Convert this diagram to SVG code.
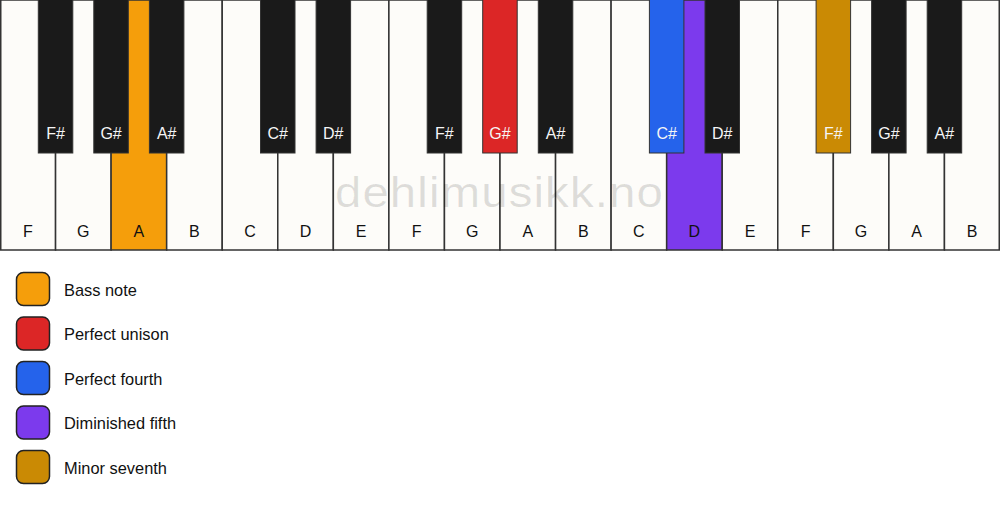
<svg xmlns="http://www.w3.org/2000/svg" width="1000" height="506" viewBox="0 0 1000 506">
<style>
.w{fill:#fdfcf9;stroke:#333;stroke-width:1.5}
.b{fill:#1a1a1a;stroke:#333;stroke-width:1}
.lw{font-family:"Liberation Sans",Arial,sans-serif;font-size:16px;fill:#111;text-anchor:middle}
.lb{font-family:"Liberation Sans",Arial,sans-serif;font-size:16px;fill:#f5f5f5;text-anchor:middle}
.sw{stroke:#222;stroke-width:1.5}
.lt{font-family:"Liberation Sans",Arial,sans-serif;font-size:16.4px;fill:#111}
</style>
<rect width="1000" height="506" fill="#ffffff"/>
<g id="white-keys">
<g id="w0"><rect class="w" x="0.75" y="0" width="54.81" height="250"/><text class="lw" x="27.8" y="237">F</text></g>
<g id="w1"><rect class="w" x="55.56" y="0" width="55.56" height="250"/><text class="lw" x="83.3" y="237">G</text></g>
<g id="w2"><rect class="w" x="111.11" y="0" width="55.56" height="250" style="fill:#f59e0b"/><text class="lw" x="138.9" y="237">A</text></g>
<g id="w3"><rect class="w" x="166.67" y="0" width="55.56" height="250"/><text class="lw" x="194.4" y="237">B</text></g>
<g id="w4"><rect class="w" x="222.22" y="0" width="55.56" height="250"/><text class="lw" x="250" y="237">C</text></g>
<g id="w5"><rect class="w" x="277.78" y="0" width="55.56" height="250"/><text class="lw" x="305.6" y="237">D</text></g>
<g id="w6"><rect class="w" x="333.33" y="0" width="55.56" height="250"/><text class="lw" x="361.1" y="237">E</text></g>
<g id="w7"><rect class="w" x="388.89" y="0" width="55.56" height="250"/><text class="lw" x="416.7" y="237">F</text></g>
<g id="w8"><rect class="w" x="444.44" y="0" width="55.56" height="250"/><text class="lw" x="472.2" y="237">G</text></g>
<g id="w9"><rect class="w" x="500" y="0" width="55.56" height="250"/><text class="lw" x="527.8" y="237">A</text></g>
<g id="w10"><rect class="w" x="555.56" y="0" width="55.56" height="250"/><text class="lw" x="583.3" y="237">B</text></g>
<g id="w11"><rect class="w" x="611.11" y="0" width="55.56" height="250"/><text class="lw" x="638.9" y="237">C</text></g>
<g id="w12"><rect class="w" x="666.67" y="0" width="55.56" height="250" style="fill:#7c3aed"/><text class="lw" x="694.4" y="237">D</text></g>
<g id="w13"><rect class="w" x="722.22" y="0" width="55.56" height="250"/><text class="lw" x="750" y="237">E</text></g>
<g id="w14"><rect class="w" x="777.78" y="0" width="55.56" height="250"/><text class="lw" x="805.6" y="237">F</text></g>
<g id="w15"><rect class="w" x="833.33" y="0" width="55.56" height="250"/><text class="lw" x="861.1" y="237">G</text></g>
<g id="w16"><rect class="w" x="888.89" y="0" width="55.56" height="250"/><text class="lw" x="916.7" y="237">A</text></g>
<g id="w17"><rect class="w" x="944.44" y="0" width="54.81" height="250"/><text class="lw" x="972.2" y="237">B</text></g>
</g>
<g id="black-keys">
<g id="b0"><rect class="b" x="38.3" y="-1" width="34.5" height="154"/><text class="lb" x="55.6" y="139">F#</text></g>
<g id="b1"><rect class="b" x="93.8" y="-1" width="34.5" height="154"/><text class="lb" x="111.1" y="139">G#</text></g>
<g id="b2"><rect class="b" x="149.4" y="-1" width="34.5" height="154"/><text class="lb" x="166.7" y="139">A#</text></g>
<g id="b4"><rect class="b" x="260.5" y="-1" width="34.5" height="154"/><text class="lb" x="277.8" y="139">C#</text></g>
<g id="b5"><rect class="b" x="316.1" y="-1" width="34.5" height="154"/><text class="lb" x="333.3" y="139">D#</text></g>
<g id="b7"><rect class="b" x="427.2" y="-1" width="34.5" height="154"/><text class="lb" x="444.4" y="139">F#</text></g>
<g id="b8"><rect class="b" x="482.7" y="-1" width="34.5" height="154" style="fill:#dc2626"/><text class="lb" x="500" y="139">G#</text></g>
<g id="b9"><rect class="b" x="538.3" y="-1" width="34.5" height="154"/><text class="lb" x="555.6" y="139">A#</text></g>
<g id="b11"><rect class="b" x="649.4" y="-1" width="34.5" height="154" style="fill:#2563eb"/><text class="lb" x="666.7" y="139">C#</text></g>
<g id="b12"><rect class="b" x="705" y="-1" width="34.5" height="154"/><text class="lb" x="722.2" y="139">D#</text></g>
<g id="b14"><rect class="b" x="816.1" y="-1" width="34.5" height="154" style="fill:#ca8a04"/><text class="lb" x="833.3" y="139">F#</text></g>
<g id="b15"><rect class="b" x="871.6" y="-1" width="34.5" height="154"/><text class="lb" x="888.9" y="139">G#</text></g>
<g id="b16"><rect class="b" x="927.2" y="-1" width="34.5" height="154"/><text class="lb" x="944.4" y="139">A#</text></g>
</g>
<text id="watermark" transform="scale(1.1,1)" x="304.5" y="207.5" textLength="298" lengthAdjust="spacing" font-family="Liberation Sans,Arial,sans-serif" font-size="43" fill="#000" fill-opacity="0.12">dehlimusikk.no</text>
<g id="legend">
<g id="lg0"><rect class="sw" x="16.5" y="272.5" width="33" height="33" rx="7" fill="#f59e0b"/><text class="lt" x="64" y="295.5">Bass note</text></g>
<g id="lg1"><rect class="sw" x="16.5" y="317" width="33" height="33" rx="7" fill="#dc2626"/><text class="lt" x="64" y="340">Perfect unison</text></g>
<g id="lg2"><rect class="sw" x="16.5" y="361.5" width="33" height="33" rx="7" fill="#2563eb"/><text class="lt" x="64" y="384.5">Perfect fourth</text></g>
<g id="lg3"><rect class="sw" x="16.5" y="406" width="33" height="33" rx="7" fill="#7c3aed"/><text class="lt" x="64" y="429">Diminished fifth</text></g>
<g id="lg4"><rect class="sw" x="16.5" y="450.5" width="33" height="33" rx="7" fill="#ca8a04"/><text class="lt" x="64" y="473.5">Minor seventh</text></g>
</g>
<g id="connectors"/>
</svg>
